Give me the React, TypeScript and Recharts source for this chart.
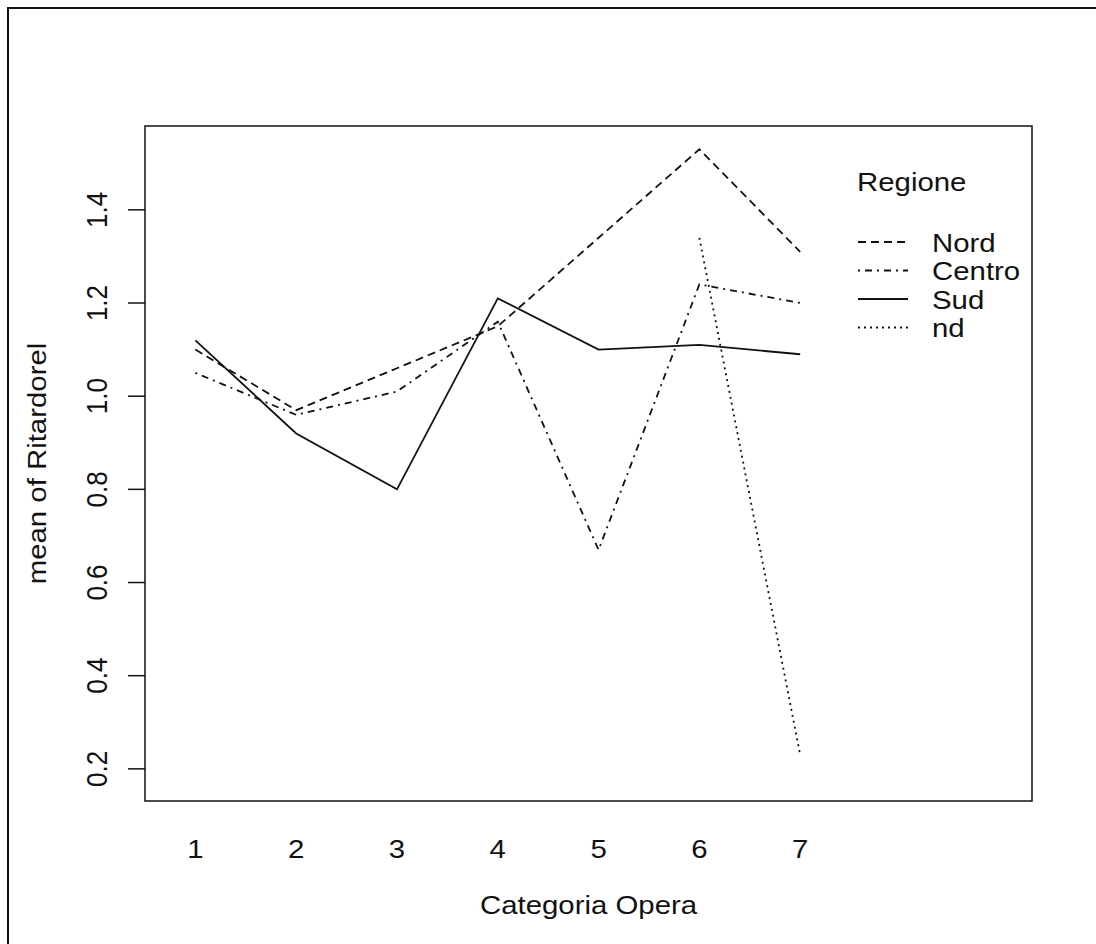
import React from "react"
import { LineChart, Line, XAxis, YAxis, ReferenceArea, Legend } from "recharts"

// interaction plot: mean of Ritardorel by Categoria Opera and Regione
const categories = [1, 2, 3, 4, 5, 6, 7]
const nord = [1.1, 0.97, 1.06, 1.15, 1.34, 1.53, 1.31]
const centro = [1.05, 0.96, 1.01, 1.16, 0.67, 1.24, 1.2]
const sud = [1.12, 0.92, 0.8, 1.21, 1.1, 1.11, 1.09]
const nd = [null, null, null, null, null, 1.34, 0.23]
const yTicks = [0.2, 0.4, 0.6, 0.8, 1.0, 1.2, 1.4]
const xDomain = [0.5, 9.3]
const yDomain = [0.131, 1.58]

const data = categories.map((c, i) => ({
  cat: c,
  Nord: nord[i],
  Centro: centro[i],
  Sud: sud[i],
  nd: nd[i],
}))

const series = [
  { key: "Nord", dash: "8 5" },
  { key: "Centro", dash: "2 5 7 5" },
  { key: "Sud", dash: undefined },
  { key: "nd", dash: "2 4" },
]

const INK = "#111"
const FONT = "'Liberation Sans', Arial, sans-serif"
const SX = 1.13

// mode: "flat" horizontal, "tick" rotated & stretched across, "title" rotated & stretched along
function T({ x, y, children, anchor = "middle", mode = "flat" }) {
  let tf = `translate(${x},${y}) scale(${SX},1)`
  if (mode === "tick") tf = `translate(${x},${y}) scale(${SX},1) rotate(-90)`
  if (mode === "title") tf = `translate(${x},${y}) rotate(-90) scale(${SX},1)`
  return (
    <text
      transform={tf}
      textAnchor={anchor}
      dominantBaseline="central"
      fontFamily={FONT}
      fontSize={26}
      fill={INK}
    >
      {children}
    </text>
  )
}

const XTick = ({ x, y, payload }) => <T x={x} y={y + 48}>{payload.value}</T>
const YTick = ({ x, y, payload }) => <T x={x - 31} y={y} mode="tick">{payload.value.toFixed(1)}</T>

function renderLegend() {
  return (
    <svg width={200} height={190}>
      <T x={7} y={22} anchor="start">Regione</T>
      {series.map((s, i) => {
        const yy = 82 + i * 28.5
        return (
          <g key={s.key}>
            <line x1={8} x2={58} y1={yy} y2={yy} stroke={INK} strokeWidth={1.8} strokeDasharray={s.dash} />
            <T x={82} y={yy + 1} anchor="start">{s.key}</T>
          </g>
        )
      })}
    </svg>
  )
}

export default function App() {
  return (
    <div
      style={{
        position: "fixed",
        left: 0,
        top: 0,
        width: 1096,
        height: 944,
        overflow: "hidden",
        background: "#fff",
      }}
    >
      <div
        style={{
          position: "absolute",
          left: 7,
          top: 7,
          width: 1200,
          height: 1200,
          borderLeft: `2px solid ${INK}`,
          borderTop: `2px solid ${INK}`,
        }}
      />
      <div style={{ position: "absolute", left: 8, top: 8 }}>
        <LineChart width={1088} height={936} data={data} margin={{ top: 118, right: 64, bottom: 83, left: 0 }}>
          <XAxis
            dataKey="cat"
            type="number"
            domain={xDomain}
            ticks={categories}
            axisLine={false}
            tickLine={false}
            tickSize={0}
            tickMargin={0}
            height={60}
            tick={XTick}
            label={{
              content: ({ viewBox }) => (
                <T x={viewBox.x + viewBox.width / 2} y={viewBox.y + 104}>Categoria Opera</T>
              ),
            }}
          />
          <YAxis
            type="number"
            domain={yDomain}
            ticks={yTicks}
            width={137}
            axisLine={false}
            tickLine={{ stroke: INK, strokeWidth: 1.5 }}
            tickSize={17}
            tickMargin={0}
            tick={YTick}
            label={{
              content: ({ viewBox }) => (
                <T x={29} y={viewBox.y + viewBox.height / 2} mode="title">mean of Ritardorel</T>
              ),
            }}
          />
          <ReferenceArea
            x1={xDomain[0]}
            x2={xDomain[1]}
            y1={yDomain[0]}
            y2={yDomain[1]}
            fill="none"
            stroke={INK}
            strokeWidth={1.5}
            fillOpacity={0}
          />
          {series.map((s) => (
            <Line
              key={s.key}
              dataKey={s.key}
              type="linear"
              stroke={INK}
              strokeWidth={1.8}
              strokeDasharray={s.dash}
              dot={false}
              activeDot={false}
              connectNulls={false}
              isAnimationActive={false}
            />
          ))}
          <Legend
            layout="horizontal"
            verticalAlign="middle"
            align="center"
            content={renderLegend}
            wrapperStyle={{ position: "absolute", left: 842, top: 152, width: 200, height: 190 }}
          />
        </LineChart>
      </div>
    </div>
  )
}
